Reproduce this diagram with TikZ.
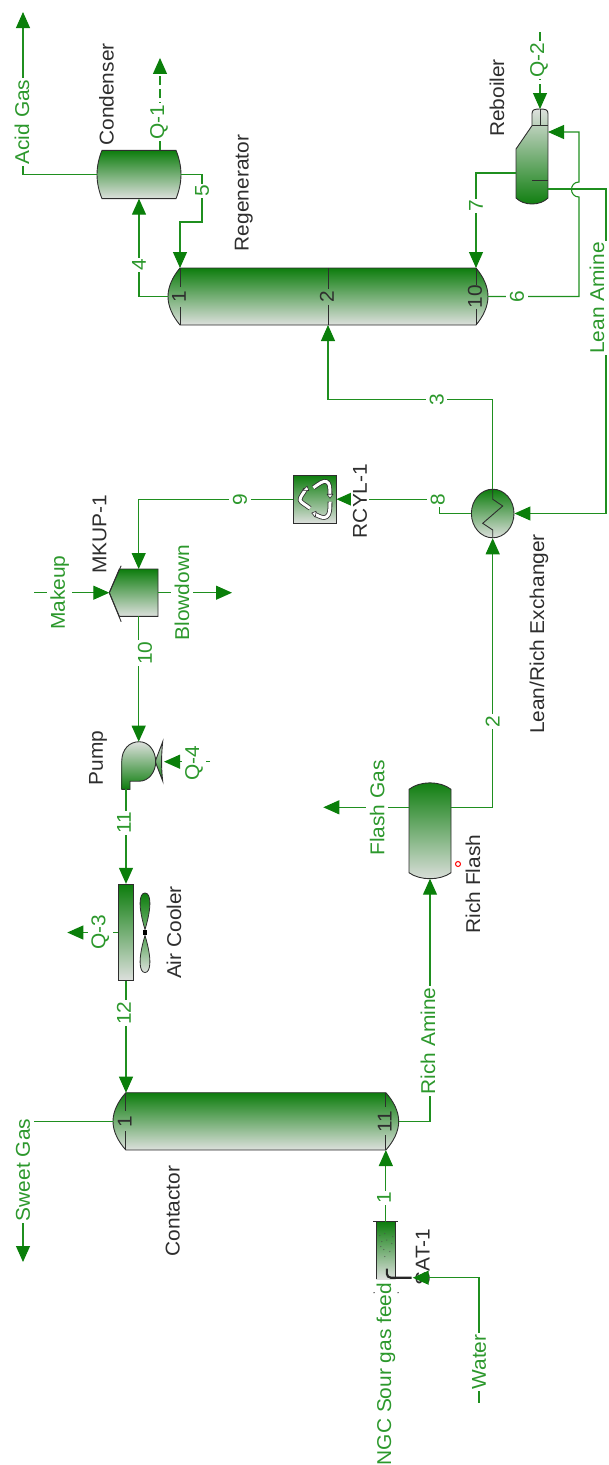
\documentclass[tikz,border=0pt]{standalone}
\usepackage{fontspec}
\setmainfont{Liberation Sans}
\usepackage{tikz}
\usetikzlibrary{positioning}
\usetikzlibrary{arrows.meta}
\usetikzlibrary{shapes.geometric}

\definecolor{pipegreen}{HTML}{1F8F1F}
\definecolor{tipgreen}{HTML}{0A7F0A}
\definecolor{taggreen}{HTML}{2C982C}
\definecolor{eqdark}{HTML}{0D7D0D}
\definecolor{eqlight}{HTML}{DDE0DD}
\definecolor{inkgray}{HTML}{2E2E2E}

\tikzset{
    frame/.style={rectangle, inner sep=0pt, outer sep=0pt},
    darktop/.style={top color=eqdark, bottom color=eqlight, draw=inkgray, line width=0.9pt},
    darkbot/.style={top color=eqlight, bottom color=eqdark, draw=inkgray, line width=0.9pt},
    strm/.style={draw=pipegreen, line width=1.1pt, -{Triangle[length=16pt,width=14pt,fill=tipgreen,color=tipgreen]}},
    energy/.style={strm, dash pattern=on 9pt off 4pt},
    lab/.style={rotate=90, xscale=1.045, font=\fontsize{20}{24}\selectfont, inner xsep=1.5pt, inner ysep=1.5pt},
    eqname/.style={lab, text=inkgray},
    tag/.style={lab, text=taggreen, fill=white, inner ysep=3.5pt},
    traynum/.style={lab, text=inkgray, inner sep=0pt},
    tick/.style={draw=inkgray, line width=0.9pt},
    rcylarrow/.style={draw=inkgray, line width=0.8pt, double=white, double distance=3pt, line join=round, smooth},
    rcylhead/.style={fill=white, draw=inkgray, line width=0.6pt, line join=round}
}

% vessel lying on its side
\newcommand{\vesselside}[4]{
    \shadedraw[darktop, shift={(#1.center)}] (-#2,-#3) -- (#2,-#3)
        .. controls (#2+0.6*#4,-0.7*#3) and (#2+#4,-0.35*#3) .. (#2+#4,0)
        .. controls (#2+#4,0.35*#3) and (#2+0.6*#4,0.7*#3) .. (#2,#3)
        -- (-#2,#3)
        .. controls (-#2-0.6*#4,0.7*#3) and (-#2-#4,0.35*#3) .. (-#2-#4,0)
        .. controls (-#2-#4,-0.35*#3) and (-#2-0.6*#4,-0.7*#3) .. (-#2,-#3) -- cycle;
}
% tray mark with its number
\newcommand{\traymark}[4]{
    \draw[tick] ([shift={(#2,-28.6)}]#1.center) -- ([shift={(#2,-#4)}]#1.center);
    \draw[tick] ([shift={(#2,#4)}]#1.center) -- ([shift={(#2,28.6)}]#1.center);
    \node[traynum] (#1-tray#3) at ([shift={(#2-1,0)}]#1.center) {#3};
}

\begin{document}
\begin{tikzpicture}[x=1pt, y=-1pt, on grid]
    \useasboundingbox (0,0) rectangle (608,1465);

    % Colonne e apparecchi
    \node[frame, minimum width=320pt, minimum height=57pt] (regen) at (328,296.5) {};
    \node[frame, minimum width=84pt, minimum height=48.3pt, above left=122pt and 189pt of regen] (cond) {};
    \node[frame, minimum width=32pt, minimum height=95pt, above right=140pt and 204pt of regen] (reb) {};
    \node[ellipse, inner sep=0pt, minimum width=42.6pt, minimum height=48.6pt, darktop,
        below right=217pt and 164.7pt of regen] (hx) {};
    \node[rectangle, darktop, inner sep=0pt, minimum width=42.7pt, minimum height=48.3pt,
        above left=14.3pt and 178pt of hx] (rcyl) {};
    \node[frame, minimum width=48.7pt, minimum height=47.4pt, below left=93.5pt and 181.05pt of rcyl] (mkup) {};
    \node[frame, minimum width=41pt, minimum height=47.6pt, below right=172.8pt and 8.55pt of mkup] (pump) {};
    \node[rectangle, darktop, inner sep=0pt, minimum width=15.4pt, minimum height=96.4pt,
        below left=167pt and 16.2pt of pump] (cooler) {};
    \node[frame, minimum width=10pt, minimum height=80pt, right=19pt of cooler] (fan) {};
    \node[frame, minimum width=42pt, minimum height=96pt, above right=101.8pt and 304pt of cooler] (flash) {};
    \node[frame, minimum width=285.7pt, minimum height=57.3pt, below right=188.85pt and 129.85pt of cooler] (contactor) {};
    \node[rectangle, inner sep=0pt, top color=eqdark, bottom color=eqlight, minimum width=19.7pt, minimum height=57.6pt,
        below right=129.15pt and 130pt of contactor] (sat) {};

    \vesselside{regen}{148}{28.5}{12}
    \vesselside{contactor}{130}{28.65}{12.85}
    \vesselside{cond}{37}{24.15}{5}
    \traymark{regen}{-148}{1}{10}
    \traymark{regen}{0}{2}{8}
    \traymark{regen}{148}{10}{12}
    \traymark{contactor}{-130}{1}{10}
    \traymark{contactor}{130}{11}{14}

    % Ribollitore
    \shadedraw[darkbot, shift={(reb.center)}] (0,-30.8) -- (0,-43)
        .. controls (0,-47) and (3,-47.5) .. (8,-47.5)
        .. controls (13,-47.5) and (16,-47) .. (16,-43)
        -- (16,41.5) .. controls (8,49.5) and (-8,49.5) .. (-16,41.5)
        -- (-16,-7.5) -- cycle;
    \draw[tick, shift={(reb.center)}] (0,-30.8) -- (16,-30.8) (8,-47.5) -- (8,-30.8) (0,23.5) -- (16,23.5);

    % Scambiatore e riciclo
    \draw[tick, shift={(hx.center)}] (0,-24.3) -- (0,-14.3) -- (10,-7.5) -- (-10,9.8) -- (0,16.5) -- (0,24.3);
    \draw[rcylarrow, shift={(rcyl.center)}] (-1.3,-11.5) .. controls (5,-16) and (9,-19) .. (12,-17.5) .. controls (15,-16) and (15.3,-12) .. (15.3,-4.2);
    \draw[rcylarrow, shift={(rcyl.center)}] (15.3,2.5) .. controls (15.3,10) and (15.3,15) .. (12,17.5) .. controls (9,19.5) and (5,17.5) .. (0.3,15.1);
    \draw[rcylarrow, shift={(rcyl.center)}] (-4.7,9.1) .. controls (-9,5.5) and (-14,3.5) .. (-14.7,0.8) .. controls (-15,-2) and (-11,-6) .. (-9,-10.2);
    \filldraw[rcylhead, shift={(rcyl.center)}] (12.3,-5) -- (18.3,-5) -- (15.3,-1) -- cycle;
    \filldraw[rcylhead, shift={(rcyl.center)}] (1.5,12) -- (0.5,18) -- (-3,13.8) -- cycle;
    \filldraw[rcylhead, shift={(rcyl.center)}] (-12,-9) -- (-6,-8.7) -- (-7.5,-13) -- cycle;

    % Make-up
    \shadedraw[darktop, shift={(mkup.center)}] (-14.3,-23.7) -- (24.35,-23.7) -- (24.35,23.7) -- (-14.3,23.7) -- (-24.35,0) -- cycle;
    \draw[tick, shift={(mkup.center)}] (-12.5,-27) -- (-24.35,0) -- (-12.5,29);

    % Pompa
    \shadedraw[darkbot, shift={(pump.center)}] (13,-4) -- (20.5,-23.8) .. controls (19,-10) and (19,3) .. (20.5,15.5) -- cycle;
    \shadedraw[darkbot, shift={(pump.center)}] (-20.5,23.8) -- (-20.5,-3.8)
        .. controls (-20.5,-16) and (-13,-23.8) .. (-3,-23.8)
        .. controls (7,-23.8) and (13.5,-14) .. (13.5,-3.8)
        .. controls (13.5,6) and (7,15.7) .. (-3,15.7)
        -- (-12.2,15.7) -- (-12.2,23.8) -- cycle;

    % Ventola
    \shadedraw[top color=eqdark, bottom color=eqdark!60, draw=inkgray, line width=0.8pt, shift={(fan.center)}]
        (0,-3) .. controls (-7,-26) and (-6,-39.5) .. (0,-39.5) .. controls (6,-39.5) and (7,-26) .. (0,-3) -- cycle;
    \shadedraw[top color=eqdark!70, bottom color=eqlight, draw=inkgray, line width=0.8pt, shift={(fan.center)}]
        (0,3) .. controls (-7,26) and (-6,40) .. (0,40) .. controls (6,40) and (7,26) .. (0,3) -- cycle;
    \fill[black, shift={(fan.center)}] (-2,-2.5) rectangle (2,2.5);

    % Separatore
    \shadedraw[darktop, shift={(flash.center)}] (-21,-41.4) .. controls (-10,-50) and (10,-50) .. (21,-41.4)
        -- (21,42) .. controls (10,50) and (-10,50) .. (-21,42) -- cycle;
    \node[circle, draw=red, line width=1pt, inner sep=0pt, minimum size=5pt, below right=33.3pt and 28pt of flash] (flashmark) {};

    % Saturatore
    \foreach \bx/\by in {-6/-15, -1/-17, 7/-14, -4/-9, 1/-10.5, 6/-7, -2/-1, 4/1, -1/6, -5/-4} {
        \fill[black!70, shift={(sat.center)}] (\bx,\by) circle (0.6pt);
    }
    \draw[tick, shift={(sat.center)}] (-12.5,-28.8) -- (12.5,-28.8) (-9.85,-28.8) -- (-9.85,28.8) (9.85,-28.8) -- (9.85,28.8);
    \fill[inkgray, shift={(sat.center)}] (-11.8,42.2) circle (0.7pt) (12.2,42.2) circle (0.7pt);
    \draw[line width=2.2pt, black!85, rounded corners=4pt, shift={(sat.center)}] (1,18) -- (1,27.2) -- (25.8,27.2);
    \node[eqname, below right=6.5pt and 36.85pt of sat] (satlabel) {SAT-1};

    % Estremi delle correnti
    \coordinate[above left=162.5pt and 74pt of cond.west] (acidend);
    \coordinate[above right=92.4pt and 21pt of cond.north] (q1end);
    \coordinate[right=21pt of cond.north] (q1start);
    \coordinate[above left=28.5pt and 148pt of regen] (regentopa);
    \coordinate[above right=28.5pt and 148pt of regen] (regentopb);
    \coordinate[below left=16.5pt and 16pt of reb] (rebvap);
    \coordinate[above right=24.5pt and 16pt of reb] (rebin);
    \coordinate[below right=32.5pt and 16pt of reb] (rebout);
    \coordinate[above right=47.5pt and 8pt of reb] (rebq);
    \coordinate[above right=124.5pt and 8pt of reb] (q2start);
    \coordinate[below right=25.5pt and 47pt of reb] (jumpup);
    \coordinate[below right=40.5pt and 47pt of reb] (jumplow);
    \coordinate[right=113.3pt of hx] (leancorner);
    \coordinate[above right=23.7pt and 5.05pt of mkup] (mkuptop);
    \coordinate[below right=23.7pt and 5.05pt of mkup] (mkupbot);
    \coordinate[left=99.65pt of mkup] (makeupstart);
    \coordinate[right=98.35pt of mkup] (blowend);
    \coordinate[above left=23.8pt and 3.5pt of pump] (pumpin);
    \coordinate[below left=23.8pt and 16.2pt of pump] (pumpout);
    \coordinate[above right=3.8pt and 21.8pt of pump] (pumpq);
    \coordinate[above right=3.8pt and 67.8pt of pump] (q4start);
    \coordinate[left=58.7pt of cooler] (q3end);
    \coordinate[above right=23.4pt and 21pt of flash] (flashout);
    \coordinate[above left=23.4pt and 21pt of flash] (flashvap);
    \coordinate[above left=23.4pt and 106.7pt of flash] (flashend);
    \coordinate[above left=28.65pt and 129.85pt of contactor] (contactortop);
    \coordinate[below right=28.65pt and 130pt of contactor] (contactorbot);
    \coordinate[below left=140.65pt and 232.85pt of contactor] (sweetend);
    \coordinate[below right=27.2pt and 26.85pt of sat] (satin);
    \coordinate[below right=152.2pt and 93.15pt of sat] (waterstart);

    % Correnti
    \draw[strm] (cond.west) -| (acidend);
    \draw[energy] (q1start) -- (q1end);
    \draw[strm] (regen.west) -| (cond.south);
    \draw[strm] (cond.east) -- ++(21,0) -- ++(0,47.5) -| (regentopa);
    \draw[strm] (rebvap) -| (regentopb);
    \draw[energy] (q2start) -- (rebq);
    \draw[strm] (regen.east) -| (jumplow) .. controls +(-10,0) and +(-10,0) .. (jumpup) |- (rebin);
    \draw[strm] (rebout) -| (leancorner) -- (hx.east);
    \draw[strm] (hx.north) -- ++(0,-89.7) -| (regen.south);
    \draw[strm] (hx.west) -- ++(-31.4,0) |- (rcyl.east);
    \draw[strm] (rcyl.west) -| (mkuptop);
    \draw[strm] (makeupstart) -- (mkup.west);
    \draw[strm] (mkup.east) -- (blowend);
    \draw[strm] (mkupbot) -- (pumpin);
    \draw[strm] (q4start) -- (pumpq);
    \draw[strm] (pumpout) -- (cooler.north);
    \draw[strm] (cooler.west) -- (q3end);
    \draw[strm] (cooler.south) -- (contactortop);
    \draw[strm] (contactor.west) -| (sweetend);
    \draw[strm] (contactor.east) -| (flash.south);
    \draw[strm] (sat.north) -- (contactorbot);
    \draw[strm] (flashvap) -- (flashend);
    \draw[strm] (flashout) -| (hx.south);
    \draw[strm] (waterstart) |- (satin);

    % Etichette delle correnti
    \node[tag, above left=52.5pt and 117pt of cond] (acidtag) {Acid Gas};
    \node[tag, above right=52.5pt and 20pt of cond] (q1tag) {Q-1};
    \node[tag, below right=16.5pt and 63pt of cond] (tag5) {5};
    \node[tag, below=90.5pt of cond] (tag4) {4};
    \node[tag, right=189pt of regen] (tag6) {6};
    \node[tag, above right=90.5pt and 148pt of regen] (tag7) {7};
    \node[tag, above right=96.5pt and 7pt of reb] (q2tag) {Q-2};
    \node[tag, below right=141.5pt and 65pt of reb] (leantag) {Lean Amine};
    \node[tag, above left=114pt and 56pt of hx] (tag3) {3};
    \node[tag, above left=14.2pt and 55pt of hx] (tag8) {8};
    \node[tag, below=208pt of hx] (tag2) {2};
    \node[tag, left=74.7pt of rcyl] (tag9) {9};
    \node[tag, left=74pt of mkup] (makeuptag) {Makeup};
    \node[tag, right=48.35pt of mkup] (blowtag) {Blowdown};
    \node[tag, below right=60.3pt and 11.35pt of mkup] (tag10) {10};
    \node[tag, above right=2.5pt and 51.8pt of pump] (q4tag) {Q-4};
    \node[tag, above left=109.5pt and 2pt of cooler] (tag11) {11};
    \node[tag, below left=80.5pt and 2pt of cooler] (tag12) {12};
    \node[tag, left=25.7pt of cooler] (q3tag) {Q-3};
    \node[tag, above left=22.7pt and 52.7pt of flash] (flashtag) {Flash Gas};
    \node[tag, below left=48.65pt and 232.85pt of contactor] (sweettag) {Sweet Gas};
    \node[tag, above right=80.35pt and 172.15pt of contactor] (richtag) {Rich Amine};
    \node[tag, below right=76.65pt and 128.15pt of contactor] (tag1) {1};
    \node[tag, below right=111.5pt and 93.15pt of sat] (watertag) {Water};
    \node[lab, text=taggreen, below left=123.5pt and 0pt of sat] (feedtag) {NGC Sour gas feed};

    % Nomi degli apparecchi
    \node[eqname, above left=80pt and 32.5pt of cond] (condlabel) {Condenser};
    \node[eqname, above left=103.5pt and 84.3pt of regen] (regenlabel) {Regenerator};
    \node[eqname, above left=58.5pt and 35pt of reb] (reblabel) {Reboiler};
    \node[eqname, fill=white, below right=1.8pt and 45.3pt of rcyl] (rcyllabel) {RCYL-1};
    \node[eqname, below right=120.5pt and 46.3pt of hx] (hxlabel) {Lean/Rich Exchanger};
    \node[eqname, above left=58.7pt and 34pt of mkup] (mkuplabel) {MKUP-1};
    \node[eqname, above left=7.5pt and 44.2pt of pump] (pumplabel) {Pump};
    \node[eqname, right=48pt of cooler] (coolerlabel) {Air Cooler};
    \node[eqname, below right=53.3pt and 43pt of flash] (flashlabel) {Rich Flash};
    \node[eqname, below left=89.65pt and 83.15pt of contactor] (contactorlabel) {Contactor};
\end{tikzpicture}
\end{document}
